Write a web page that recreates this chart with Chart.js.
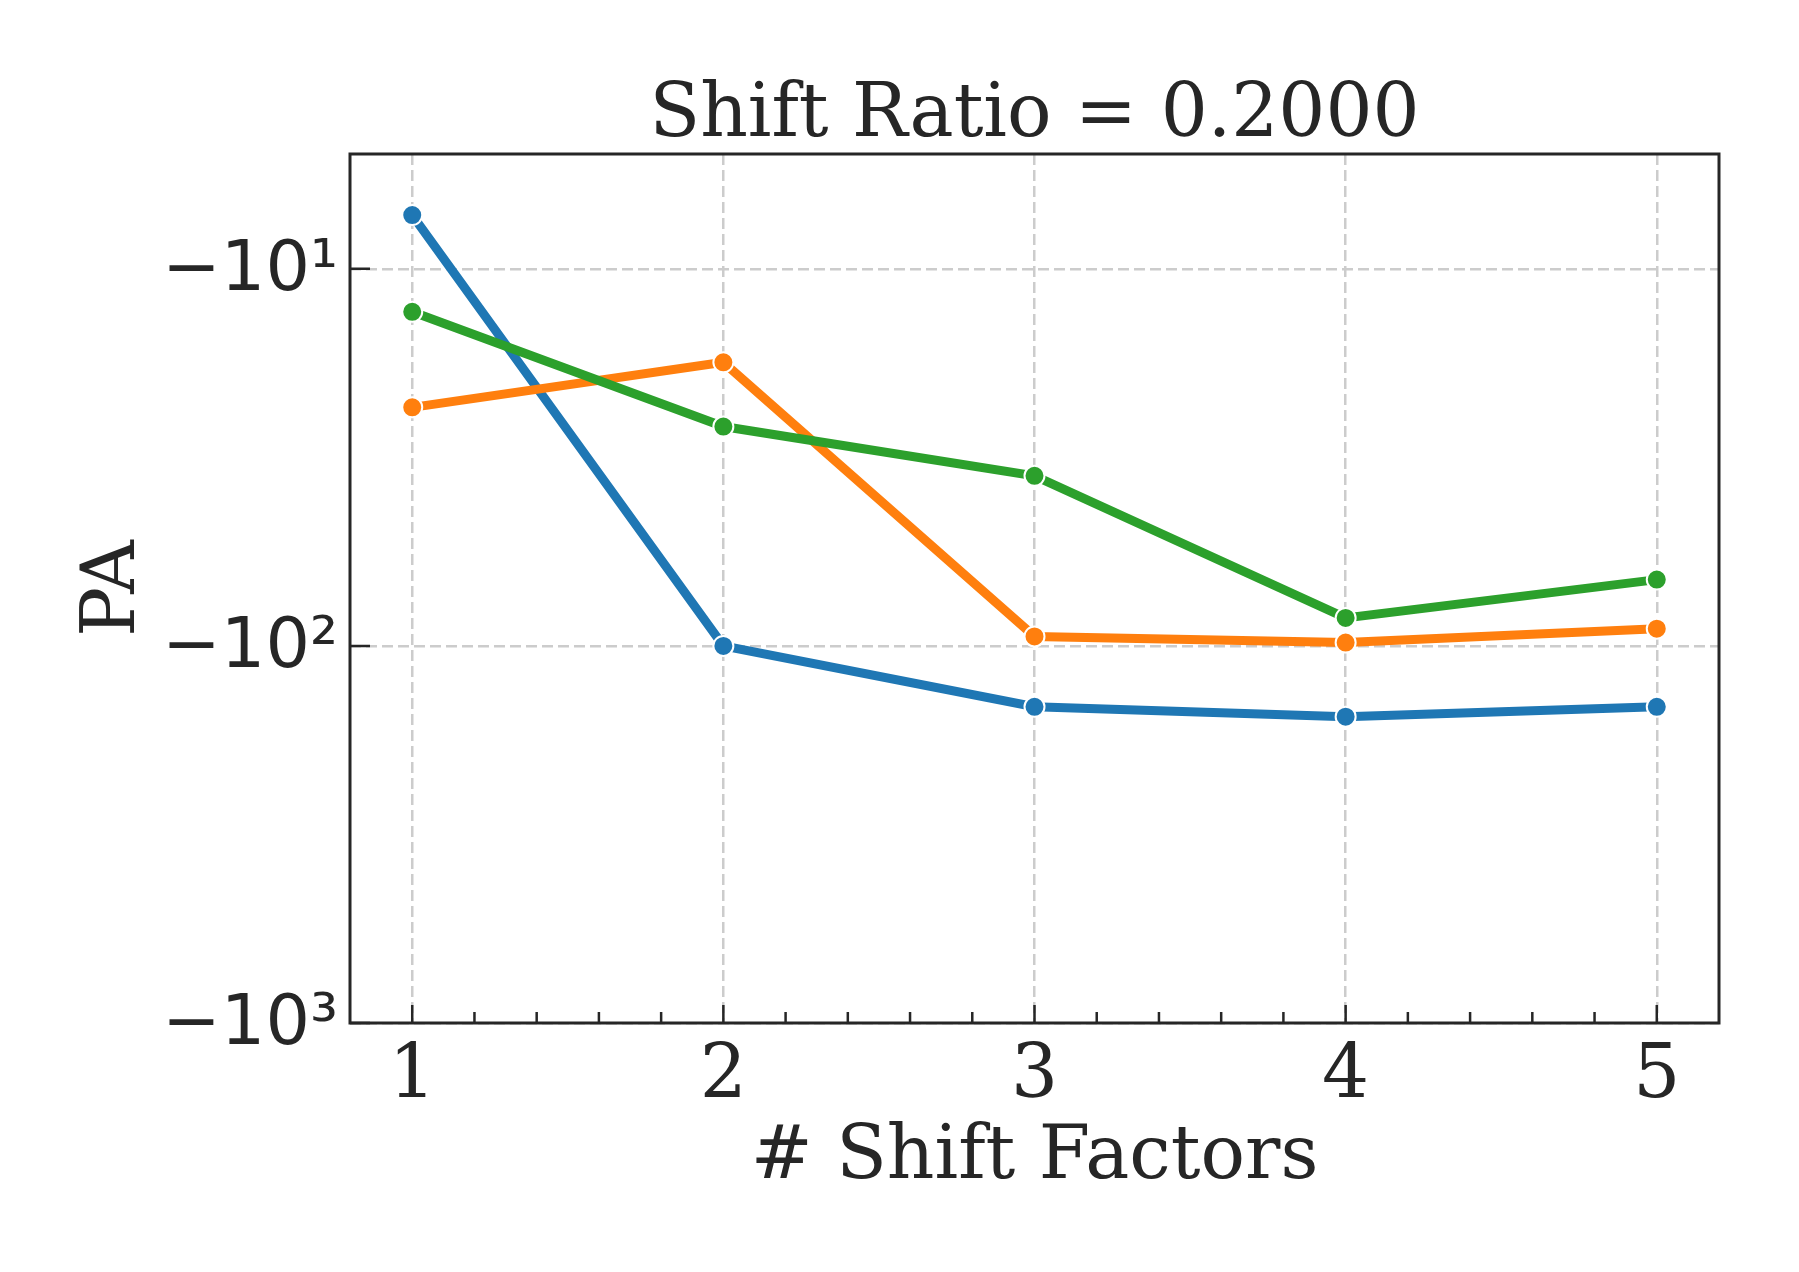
<!DOCTYPE html>
<html>
<head>
<meta charset="utf-8">
<title>Shift Ratio = 0.2000</title>
<script src="https://cdn.jsdelivr.net/npm/chart.js@4.4.1/dist/chart.umd.min.js"></script>
<style>
  html, body { margin: 0; padding: 0; background: #ffffff; }
  #chart { display: block; }
</style>
</head>
<body>
<canvas id="chart" width="1799" height="1272"></canvas>
<script>
const shiftFactors = [1, 2, 3, 4, 5];
const paBlue = [-7.2, -100, -145, -154, -145];
const paOrange = [-23.3, -17.7, -94.4, -98, -90];
const paGreen = [-13.0, -26.2, -35.4, -84.3, -66.7];
const yTickValues = [-10, -100, -1000];
const yTickLabels = ['−10¹', '−10²', '−10³'];
const xTickLabels = ['1', '2', '3', '4', '5'];

const INK = '#262626';
const GRID = '#cccccc';
const SERIF = "'DejaVu Serif', serif";
const SANS = "'DejaVu Sans', sans-serif";

// the log axis runs on |PA| and is reversed, so -10 sits above -100
const toPoints = vals => shiftFactors.map((x, i) => ({ x: x, y: -vals[i] }));

function series(label, vals, color, order) {
  return {
    label: label,
    data: toPoints(vals),
    order: order,
    borderColor: color,
    backgroundColor: color,
    borderWidth: 9,
    pointRadius: 10,
    pointHoverRadius: 10,
    pointBackgroundColor: color,
    pointBorderColor: '#ffffff',
    pointBorderWidth: 2,
    tension: 0,
    fill: false
  };
}

// matplotlib style: ticks pointing in, full box around the axes
const insideTicks = {
  id: 'insideTicks',
  afterDraw(chart) {
    const { ctx, chartArea: a, scales: { x, y } } = chart;
    ctx.save();
    ctx.strokeStyle = INK;
    ctx.lineWidth = 2.5;
    ctx.beginPath();
    for (let k = 0; k <= 20; k++) {
      const v = shiftFactors[0] + k * 0.2;
      const px = x.getPixelForValue(v);
      const len = k % 5 === 0 ? 18 : 11;
      ctx.moveTo(px, a.bottom);
      ctx.lineTo(px, a.bottom - len);
    }
    yTickValues.forEach(v => {
      const py = y.getPixelForValue(-v);
      ctx.moveTo(a.left, py);
      ctx.lineTo(a.left + 20, py);
    });
    ctx.stroke();
    ctx.lineWidth = 3;
    ctx.strokeRect(a.left, a.top, a.right - a.left, a.bottom - a.top);
    ctx.restore();
  }
};

new Chart(document.getElementById('chart').getContext('2d'), {
  type: 'line',
  data: {
    datasets: [
      series('blue', paBlue, '#1f77b4', 2),
      series('orange', paOrange, '#ff7f0e', 1),
      series('green', paGreen, '#2ca02c', 0)
    ]
  },
  options: {
    responsive: false,
    animation: false,
    devicePixelRatio: 1,
    layout: { padding: { left: 0, right: 80, top: 0, bottom: 0 } },
    plugins: {
      legend: { display: false },
      tooltip: { enabled: false },
      title: {
        display: true,
        fullSize: false,
        text: 'Shift Ratio = 0.2000',
        color: INK,
        font: { family: SERIF, size: 74, weight: 'normal', lineHeight: 1 },
        padding: { top: 80, bottom: 0 }
      }
    },
    scales: {
      x: {
        type: 'linear',
        min: 0.8,
        max: 5.2,
        afterBuildTicks: s => { s.ticks = shiftFactors.map(v => ({ value: v })); },
        afterFit: s => { s.height = 249; },
        grid: { color: GRID, lineWidth: 2.5, drawTicks: false },
        border: { display: false, dash: [11, 5] },
        ticks: {
          color: INK,
          font: { family: SERIF, size: 74, lineHeight: 1 },
          padding: 18,
          maxRotation: 0,
          autoSkip: false,
          callback: v => xTickLabels[shiftFactors.indexOf(v)]
        },
        title: {
          display: true,
          text: '# Shift Factors',
          color: INK,
          font: { family: SERIF, size: 74, lineHeight: 1 },
          padding: { top: 0, bottom: 76 }
        }
      },
      y: {
        type: 'logarithmic',
        reverse: true,
        min: 4.96,
        max: 1000,
        afterBuildTicks: s => { s.ticks = yTickValues.map(v => ({ value: -v })); },
        afterFit: s => { s.width = 350; },
        grid: { color: GRID, lineWidth: 2.5, drawTicks: false },
        border: { display: false, dash: [11, 5] },
        ticks: {
          color: INK,
          font: { family: SANS, size: 70, lineHeight: 1 },
          padding: 12,
          labelOffset: 3,
          autoSkip: false,
          callback: v => yTickLabels[yTickValues.indexOf(-v)]
        },
        title: {
          display: true,
          text: 'PA',
          color: INK,
          font: { family: SERIF, size: 74, lineHeight: 1 },
          padding: { top: 78, bottom: 0 }
        }
      }
    }
  },
  plugins: [insideTicks]
});
</script>
</body>
</html>
